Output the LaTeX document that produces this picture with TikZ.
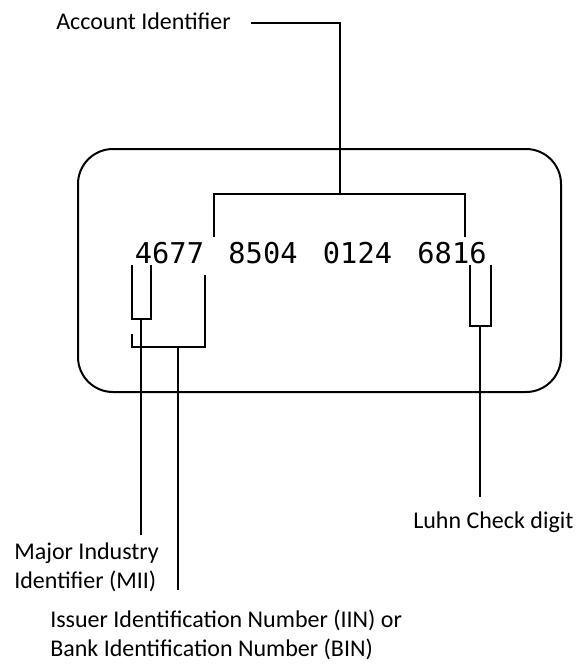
\documentclass[tikz,border=0pt]{standalone}
\usepackage{fontspec}
\setmainfont{Carlito}
\newfontfamily\cardfont{DejaVu Sans Mono}
\begin{document}
\begin{tikzpicture}[x=0.75pt,y=-0.75pt,
  conn/.style={line width=1.5pt},
  lbl/.style={inner sep=0pt, font=\fontsize{18}{21.75}\selectfont, align=left},
  grp/.style={inner sep=0pt, anchor=base, font=\cardfont\fontsize{21.5}{24}\selectfont}]
\useasboundingbox (0,0) rectangle (581,664);
% card
\node[draw, line width=1.5pt, rounded corners=26.25pt, minimum width=362.25pt, minimum height=182.25pt] (card) at (319.5,270.5) {};
% digit groups
\node[grp] (g1) at (169.5,263) {4677};
\node[grp] (g2) at (263,263) {8504};
\node[grp] (g3) at (357.5,263) {0124};
\node[grp] (g4) at (452,263) {6816};
% labels
\node[lbl, anchor=west] (acc) at (56,21) {Account Identifier};
\node[lbl, anchor=west] (luhn) at (413,522) {Luhn Check digit};
\node[lbl, anchor=west] (mii) at (14,567) {Major Industry\\Identifier (MII)};
\node[lbl, anchor=west] (iin) at (50,635) {Issuer Identification Number (IIN) or\\Bank Identification Number (BIN)};
% account identifier bracket
\coordinate (a0) at (251,22.7);
\coordinate (aj) at (339.5,194);
\coordinate (al) at (214,237);
\coordinate (ar) at (465,237);
\draw[conn] (a0) -| (aj);
\draw[conn] (al) |- (aj) -| (ar);
% MII bracket
\coordinate (m1) at (132,265);
\coordinate (m2) at (151,265);
\coordinate (mj) at (141,319);
\coordinate (me) at (141,535);
\draw[conn] (m1) |- (m2 |- mj) -- (m2);
\draw[conn] (mj) -- (me);
% IIN bracket
\coordinate (i1) at (132,334);
\coordinate (i2) at (205,275);
\coordinate (ij) at (178,347);
\coordinate (ie) at (178,590);
\draw[conn] (i1) |- (i2 |- ij) -- (i2);
\draw[conn] (ij) -- (ie);
% Luhn bracket
\coordinate (l1) at (470,265);
\coordinate (l2) at (491,265);
\coordinate (lj) at (480,326);
\coordinate (le) at (480,497);
\draw[conn] (l1) |- (l2 |- lj) -- (l2);
\draw[conn] (lj) -- (le);
\end{tikzpicture}
\end{document}
